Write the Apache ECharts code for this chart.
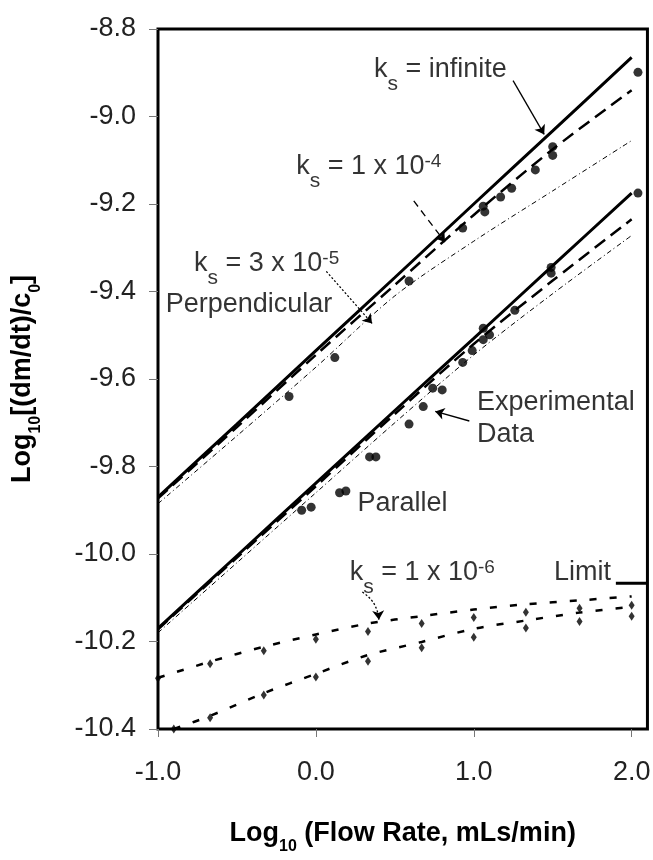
<!DOCTYPE html>
<html>
<head>
<meta charset="utf-8">
<script src="https://cdn.jsdelivr.net/npm/echarts@6/dist/echarts.min.js"></script>
<style>
html, body { margin: 0; padding: 0; background: #fff; }
#chart { width: 653px; height: 860px; }
</style>
</head>
<body>
<div id="chart"></div>
<script>
const FONT = '"Liberation Sans", Arial, sans-serif';

const xTicks = [-1, 0, 1, 2];

// model curves (upper two groups)
const xModel = [-1, -0.5, 0, 0.5, 1, 1.5, 2];
const perpInf = [-9.87, -9.703, -9.535, -9.368, -9.2, -9.033, -8.865];
const perpK4 = [-9.873, -9.71, -9.545, -9.385, -9.225, -9.075, -8.94];
const perpK5 = [-9.885, -9.73, -9.573, -9.41, -9.285, -9.17, -9.055];
const parInf = [-10.17, -10.004, -9.838, -9.672, -9.507, -9.341, -9.175];
const parK4 = [-10.172, -10.008, -9.845, -9.68, -9.52, -9.375, -9.235];
const parK5 = [-10.18, -10.02, -9.86, -9.70, -9.545, -9.405, -9.272];

// experimental data
const perpExpX = [-0.17, 0.12, 0.59, 0.93, 1.06, 1.07, 1.17, 1.24, 1.39, 1.50, 1.50, 2.04];
const perpExpY = [-9.64, -9.551, -9.376, -9.255, -9.205, -9.218, -9.184, -9.164, -9.122, -9.069, -9.089, -8.899];
const parExpX = [-0.09, -0.03, 0.15, 0.19, 0.34, 0.38, 0.59, 0.68, 0.74, 0.80, 0.93, 0.99, 1.06, 1.06, 1.10, 1.26, 1.49, 1.49, 2.04];
const parExpY = [-9.90, -9.893, -9.86, -9.856, -9.778, -9.778, -9.703, -9.663, -9.621, -9.625, -9.562, -9.535, -9.484, -9.51, -9.499, -9.443, -9.345, -9.358, -9.175];

// ks = 1e-6 curves
const perpLowX = [-1, -0.67, -0.33, 0, 0.33, 0.67, 1, 1.33, 1.67, 2];
const perpLowMarks = [-10.284, -10.251, -10.221, -10.195, -10.177, -10.159, -10.145, -10.133, -10.124, -10.117];
const perpLowCurve = [-10.283, -10.246, -10.212, -10.184, -10.159, -10.142, -10.127, -10.115, -10.106, -10.097];
const parLowX = [-0.9, -0.67, -0.33, 0, 0.33, 0.67, 1, 1.33, 1.67, 2];
const parLowMarks = [-10.40, -10.374, -10.322, -10.281, -10.245, -10.214, -10.190, -10.169, -10.154, -10.142];
const parLowCurve = [-10.40, -10.370, -10.318, -10.274, -10.231, -10.201, -10.171, -10.152, -10.134, -10.121];

const limitX = [1.9, 2.1];
const limitY = [-10.067, -10.067];

// labels: [text, x, y]
const notes = [
    ['{t|k}{sub|s}{t| = infinite}', 0.368, -8.893],
    ['{t|k}{sub|s}{t| = 1 x 10}{sup|-4}', -0.125, -9.114],
    ['{t|k}{sub|s}{t| = 3 x 10}{sup|-5}', -0.772, -9.336],
    ['{t|Perpendicular}', -0.951, -9.429],
    ['{t|Experimental}', 1.021, -9.653],
    ['{t|Data}', 1.021, -9.727],
    ['{t|Parallel}', 0.263, -9.885],
    ['{t|k}{sub|s}{t| = 1 x 10}{sup|-6}', 0.214, -10.042],
    ['{t|Limit}', 1.508, -10.042]
];

// arrows: [x1, y1, x2, y2, line type, curveness]
const arrows = [
    [1.249, -8.918, 1.446, -9.041, 'solid', 0],
    [0.620, -9.193, 0.818, -9.287, [7, 5], 0],
    [0.066, -9.354, 0.356, -9.473, [2, 2], 0],
    [0.972, -9.696, 0.756, -9.674, 'solid', 0],
    [0.294, -10.087, 0.399, -10.150, [2, 2], 0.25]
];

const zip = (xs, ys) => xs.map((x, i) => [x, ys[i]]);

function modelLine(name, ys, width, type) {
    return {
        name: name,
        type: 'line',
        data: zip(xModel, ys),
        showSymbol: false,
        smooth: 0.3,
        lineStyle: { color: '#000', width: width, type: type },
        z: 2
    };
}

const rich = {
    t: { fontSize: 27, fontFamily: FONT, color: '#000', lineHeight: 30 },
    // subscript pushed down with top padding, kept out of the line height
    sub: { fontSize: 21, fontFamily: FONT, color: '#000', height: 10, lineHeight: 1, padding: [25, 0, 0, 0], verticalAlign: 'top' },
    sup: { fontSize: 19, fontFamily: FONT, color: '#000', height: 20, verticalAlign: 'top' }
};

const nameRich = {
    b: { fontSize: 27, fontWeight: 'bold', fontFamily: FONT, color: '#000', lineHeight: 30 },
    bs: { fontSize: 16, fontWeight: 'bold', fontFamily: FONT, color: '#000', height: 8, lineHeight: 1, padding: [24, 0, 0, 0], verticalAlign: 'top' }
};

const chart = echarts.init(document.getElementById('chart'));

chart.setOption({
    animation: false,
    grid: {
        left: 145, right: 5, top: 29, bottom: 115,
        show: true, borderColor: '#000', borderWidth: 3
    },
    xAxis: {
        type: 'value',
        min: -1, max: 2.1,
        splitLine: { show: false },
        axisLine: { show: false, onZero: false },
        axisTick: { show: true, length: 8, customValues: xTicks, lineStyle: { color: '#777', width: 1 } },
        axisLabel: {
            customValues: xTicks, margin: 30,
            fontSize: 27, fontFamily: FONT, color: '#222',
            formatter: v => v.toFixed(1)
        },
        name: '{b|Log}{bs|10}{b| (Flow Rate, mLs/min)}',
        nameLocation: 'middle',
        nameGap: 90,
        nameTextStyle: { rich: nameRich }
    },
    yAxis: {
        type: 'value',
        min: -10.4, max: -8.8, interval: 0.2,
        splitLine: { show: false },
        axisLine: { show: false, onZero: false },
        axisTick: { show: true, length: 9, lineStyle: { color: '#777', width: 1 } },
        axisLabel: {
            margin: 22,
            fontSize: 27, fontFamily: FONT, color: '#222',
            formatter: v => v.toFixed(1)
        },
        name: '{b|Log}{bs|10}{b|[(dm/dt)/c}{bs|0}{b|]}',
        nameLocation: 'middle',
        nameRotate: 90,
        nameGap: 120,
        nameTextStyle: { rich: nameRich }
    },
    series: [
        modelLine('perp infinite', perpInf, 3, 'solid'),
        modelLine('perp 1e-4', perpK4, 2.5, [13, 7]),
        modelLine('perp 3e-5', perpK5, 1, [5, 3, 1, 3]),
        modelLine('par infinite', parInf, 3, 'solid'),
        modelLine('par 1e-4', parK4, 2.5, [13, 7]),
        modelLine('par 3e-5', parK5, 1, [5, 3, 1, 3]),
        {
            name: 'perp 1e-6', type: 'line', data: zip(perpLowX, perpLowCurve),
            showSymbol: false, smooth: 0.3,
            lineStyle: { color: '#000', width: 2.5, type: [7, 13] }
        },
        {
            name: 'par 1e-6', type: 'line', data: zip(parLowX, parLowCurve),
            showSymbol: false, smooth: 0.3,
            lineStyle: { color: '#000', width: 2.5, type: [7, 13] }
        },
        {
            name: 'perp 1e-6 points', type: 'scatter', data: zip(perpLowX, perpLowMarks),
            symbol: 'diamond', symbolSize: [6, 9], itemStyle: { color: '#000' }
        },
        {
            name: 'par 1e-6 points', type: 'scatter', data: zip(parLowX, parLowMarks),
            symbol: 'diamond', symbolSize: [6, 9], itemStyle: { color: '#000' }
        },
        {
            name: 'perp exp', type: 'scatter', data: zip(perpExpX, perpExpY),
            symbol: 'circle', symbolSize: 9, itemStyle: { color: '#000' }, z: 3
        },
        {
            name: 'par exp', type: 'scatter', data: zip(parExpX, parExpY),
            symbol: 'circle', symbolSize: 9, itemStyle: { color: '#000' }, z: 3
        },
        {
            name: 'limit', type: 'line', data: zip(limitX, limitY),
            showSymbol: false, clip: false,
            lineStyle: { color: '#000', width: 3 }
        },
        {
            name: 'arrows', type: 'lines', coordinateSystem: 'cartesian2d',
            symbol: ['none', 'arrow'], symbolSize: 9, silent: true,
            data: arrows.map(a => ({
                coords: [[a[0], a[1]], [a[2], a[3]]],
                lineStyle: { color: '#000', opacity: 1, width: 1.3, type: a[4], curveness: a[5] }
            }))
        },
        {
            name: 'notes', type: 'scatter', symbolSize: 0, silent: true,
            data: notes.map(n => ({ value: [n[1], n[2]], text: n[0] })),
            label: {
                show: true, position: 'right', distance: 0,
                formatter: p => p.data.text,
                rich: rich
            },
            z: 5
        }
    ]
});
</script>
</body>
</html>
